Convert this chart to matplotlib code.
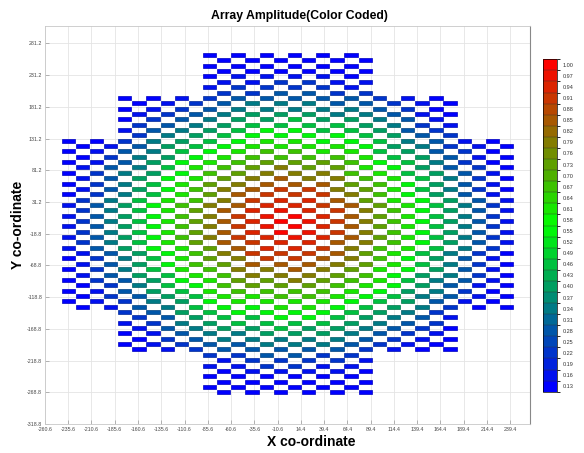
import numpy as np
import matplotlib
matplotlib.use("Agg")
import matplotlib.pyplot as plt
from matplotlib.colors import LinearSegmentedColormap, BoundaryNorm
from matplotlib.cm import ScalarMappable

plt.rcParams['font.family'] = ['Liberation Sans', 'DejaVu Sans']

# lattice of the array (triangular grid, half column pitch)
x_first = -235.6                 # centre of leftmost element
x_step = 15.2                    # half column pitch
y_top = 262.9                    # centre of top row
y_step = 8.44                    # row pitch
elem_w = 14.3                    # element width
elem_h = 6.3                     # element height

# (first row, last row, first half-column, last half-column) per block
block_rows0 = [0, 8, 16, 48, 56]
block_rows1 = [7, 15, 47, 55, 63]
block_cols0 = [10, 4, 0, 4, 10]
block_cols1 = [21, 27, 31, 27, 21]

ring_edge = [0, 15, 30, 45, 60, 75, 90, 105, 120, 135, 150, 165, 180, 195, 210, 225, 240, 255]
ring_amp = [1.00, 0.97, 0.94, 0.91, 0.85, 0.79, 0.73, 0.67, 0.60, 0.54, 0.47, 0.40, 0.34,
            0.28, 0.22, 0.17, 0.14, 0.13]

# colour bar levels
cb_ticks = [0.13, 0.16, 0.19, 0.22, 0.25, 0.28, 0.31, 0.34, 0.37, 0.40, 0.43, 0.46, 0.49, 0.52,
            0.55, 0.58, 0.61, 0.64, 0.67, 0.70, 0.73, 0.76, 0.79, 0.82, 0.85, 0.88, 0.91, 0.94,
            0.97, 1.00]

x_ticks = [-260.6, -235.6, -210.6, -185.6, -160.6, -135.6, -110.6, -85.6, -60.6, -35.6, -10.6,
           14.4, 39.4, 64.4, 89.4, 114.4, 139.4, 164.4, 189.4, 214.4, 239.4]
y_ticks = [-318.8, -268.8, -218.8, -168.8, -118.8, -68.8, -18.8, 31.2, 81.2, 131.2, 181.2,
           231.2, 281.2]

# build element positions
xs, ys = [], []
for r0, r1, c0, c1 in zip(block_rows0, block_rows1, block_cols0, block_cols1):
    for j in range(r0, r1 + 1):
        for i in range(c0, c1 + 1):
            if (i + j) % 2 == 0:
                xs.append(x_first + i * x_step)
                ys.append(y_top - j * y_step)
xs = np.array(xs)
ys = np.array(ys)
xc = x_first + 15.5 * x_step
yc = y_top - 31.5 * y_step
rr = np.hypot(xs - xc, ys - yc)
k = np.searchsorted(ring_edge, rr, side='right') - 1
amp = np.array(ring_amp)[np.clip(k, 0, len(ring_amp) - 1)]

cmap = LinearSegmentedColormap.from_list('bgr', ['#0000ff', '#00ff00', '#ff0000'], N=256)
bounds = np.concatenate([[cb_ticks[0] - 0.015], np.array(cb_ticks) + 0.015])
norm = BoundaryNorm(bounds, cmap.N)

fig = plt.figure(figsize=(5.84, 4.53), dpi=100)
ax = fig.add_axes([0.077, 0.064, 0.8305, 0.879])

face = cmap(norm(amp))
edge = face.copy()
edge[:, :3] *= 0.75
ax.bar(xs, elem_h, width=elem_w, bottom=ys - elem_h / 2, color=face, edgecolor=edge,
       linewidth=0.5, zorder=3)

ax.set_xlim(-260.6, 260.6)
ax.set_ylim(-318.8, 309.0)
ax.set_xticks(x_ticks)
ax.set_yticks(y_ticks)
ax.set_xticklabels(['%.1f' % v for v in x_ticks])
ax.set_yticklabels(['%.1f' % v for v in y_ticks])
ax.tick_params(direction='in', length=3, width=0.5, colors='#999999', labelcolor='#444444',
               labelsize=3.8, pad=2)
ax.grid(True, color='#e4e4e4', linewidth=0.6, zorder=0)
ax.set_axisbelow(True)
for s in ['left', 'bottom', 'top']:
    ax.spines[s].set_color('#c8c8c8')
    ax.spines[s].set_linewidth(0.6)
ax.spines['right'].set_color('#888888')
ax.spines['right'].set_linewidth(0.8)

ax.set_title('Array Amplitude(Color Coded)', fontsize=8.8, fontweight='bold', pad=5, x=0.524)
ax.set_xlabel('X co-ordinate', fontsize=10, fontweight='bold')
ax.set_ylabel('Y co-ordinate', fontsize=10, fontweight='bold')
ax.xaxis.set_label_coords(0.55, -0.028)
ax.yaxis.set_label_coords(-0.041, 0.5)

cax = fig.add_axes([543 / 584, 1 - 391.7 / 453, 14 / 584, 332.4 / 453])
cb = fig.colorbar(ScalarMappable(norm=norm, cmap=cmap), cax=cax, ticks=cb_ticks,
                  drawedges=True)
cb.ax.set_yticklabels(['%.2f' % v for v in cb_ticks])
cb.ax.tick_params(labelsize=4, length=0, pad=4, labelcolor='#333333')
cb.outline.set_linewidth(0.5)
cb.dividers.set_linewidth(0.3)
cb.dividers.set_color('#333333')

fig.savefig('out.png', dpi=100)
